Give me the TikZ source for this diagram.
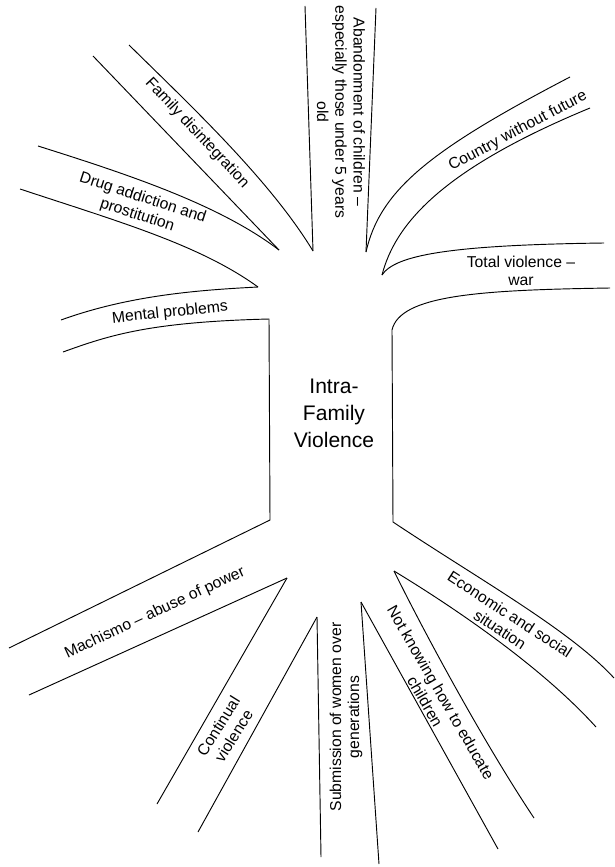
\documentclass[tikz,border=0pt]{standalone}
\usepackage{fontspec}
\setmainfont{Liberation Sans}
\usepackage{tikz}

\begin{document}
\begin{tikzpicture}[x=0.75pt,y=-0.75pt,line width=0.7pt,
		lbl/.style={align=center,inner sep=0pt,font=\fontsize{11.8}{13.6}\selectfont},
		core/.style={align=center,inner sep=0pt,font=\fontsize{15.8}{20.2}\selectfont}]
			\useasboundingbox (0,0) rectangle (614,867);
			% meeting points of the branches
			\coordinate (dfa) at (279,250);
			\coordinate (fab) at (313,251);
			\coordinate (dme) at (258,287);
			\coordinate (aco) at (366,252);
			\coordinate (cto) at (382,275);
			\coordinate (lbtop) at (269,319);
			\coordinate (lbbot) at (270,520);
			\coordinate (rbbot) at (393,522);
			\coordinate (mco) at (287,578);
			\coordinate (csu) at (317,617);
			\coordinate (sno) at (361,602);
			\coordinate (nec) at (394,571);
			
			\draw  (93,56)-- (dfa);
			\draw  (129,45) .. controls (190,105) and (270,180) .. (fab);
			\draw  (38,146) .. controls (130,175) and (220,205) .. (dfa);
			\draw  (20,189) .. controls (120,222) and (200,245) .. (dme);
			\draw  (dme) .. controls (200,290) and (130,295) .. (61,320);
			\draw  (63,352) .. controls (110,335) and (150,322) .. (lbtop)-- (lbbot)-- (9,648);
			\draw  (305,6)-- (fab);
			\draw  (376,8)-- (aco);
			\draw  (aco) .. controls (380,190) and (430,150) .. (570,77);
			\draw  (cto) .. controls (395,225) and (440,170) .. (590,108);
			\draw  (cto) .. controls (395,255) and (450,245) .. (604,243);
			\draw  (610,288) .. controls (480,290) and (400,295) .. (392,330)-- (rbbot) .. controls (480,580) and (570,630) .. (614,678);
			\draw  (nec) .. controls (450,605) and (540,665) .. (596,727);
			\draw  (nec) .. controls (422,628) and (482,740) .. (534,818);
			\draw  (sno)-- (498,849);
			\draw  (379,864)-- (sno);
			\draw  (csu)-- (321,857);
			\draw  (198,832)-- (csu);
			\draw  (mco)-- (157,804);
			\draw  (29,695)-- (mco);
			
			\node[core] (ifv) at (334,413) {Intra-\\Family\\Violence};
			\node[lbl,rotate=-90] (aband) at (341,112) {Abandonment of children --\\especially those under 5 years\\old};
			\node[lbl,rotate=-47] (family) at (197,133) {Family disintegration};
			\node[lbl,rotate=-18] (drug) at (140,207) {Drug addiction and\\prostitution};
			\node[lbl,rotate=6] (mental) at (170,313) {Mental problems};
			\node[lbl,rotate=28] (country) at (518,131) {Country without future};
			\node[lbl] (total) at (521,271) {Total violence --\\war};
			\node[lbl,rotate=-33] (econ) at (505,622) {Economic and social\\situation};
			\node[lbl,rotate=-60] (educ) at (433,697) {Not knowing how to educate\\children};
			\node[lbl,rotate=90] (submis) at (346,717) {Submission of women over\\generations};
			\node[lbl,rotate=58] (contin) at (226,731) {Continual\\violence};
			\node[lbl,rotate=25] (machis) at (155,613) {Machismo -- abuse of power};
		\end{tikzpicture}
\end{document}
